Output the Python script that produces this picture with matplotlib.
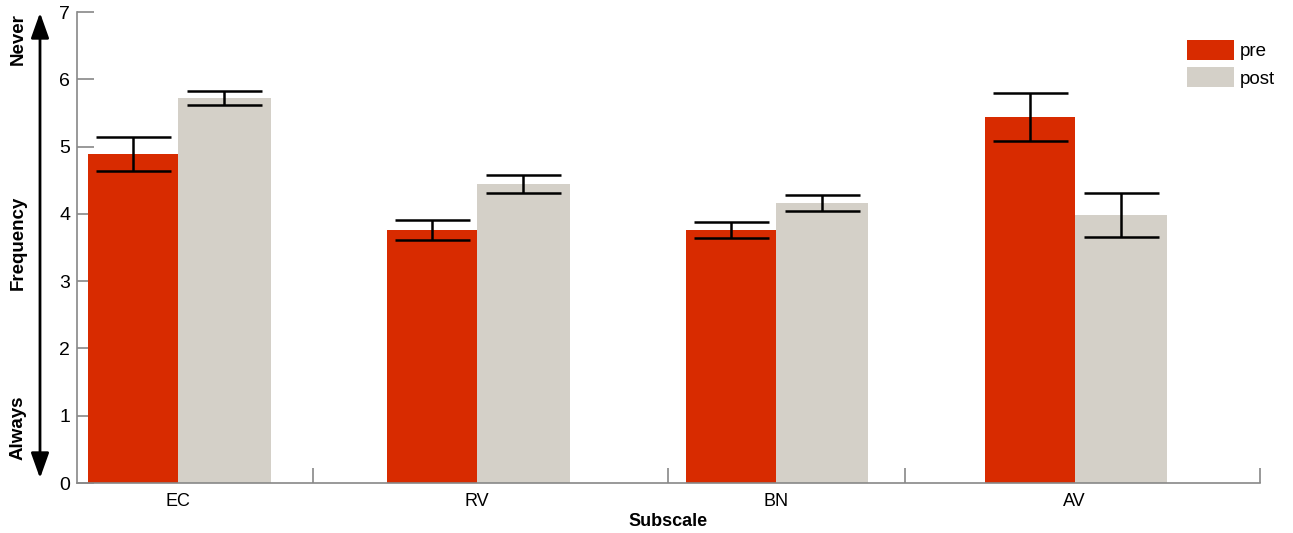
import matplotlib
matplotlib.use("Agg")
import matplotlib.pyplot as plt
import numpy as np

categories = ["EC", "RV", "BN", "AV"]
pre_vals = [4.89, 3.76, 3.76, 5.44]
pre_err = [0.25, 0.145, 0.12, 0.35]
post_vals = [5.72, 4.44, 4.16, 3.98]
post_err = [0.10, 0.135, 0.12, 0.33]
series_names = ["pre", "post"]
yticks = [0, 1, 2, 3, 4, 5, 6, 7]
x_minor_ticks = [0.452, 1.639, 2.431]

plt.rcParams['font.family'] = ['Liberation Sans', 'DejaVu Sans']

fig = plt.figure(figsize=(12.93, 5.33), dpi=100)
ax = fig.add_axes([77/1293, 1 - 483/533, (1260-77)/1293, (483-12)/533])

red = '#D82B00'
gray = '#D4D0C8'
x = np.arange(len(categories))
w = 0.31
ekw = dict(elinewidth=1.8, capthick=1.8, ecolor='black')
ax.bar(x - w/2 + 0.005, pre_vals, w - 0.01, color=red, label=series_names[0], yerr=pre_err,
       capsize=27, error_kw=ekw, zorder=2)
ax.bar(x + w/2, post_vals, w, color=gray, label=series_names[1], yerr=post_err,
       capsize=27, error_kw=ekw, zorder=2)

ax.set_xlim(-0.338, 3.62)
ax.set_ylim(0, 7)
ax.set_yticks(yticks)
ax.set_xticks(x)
ax.set_xticklabels(categories, fontsize=13)
ax.tick_params(axis='x', length=0, pad=7)
ax.set_xticks(x_minor_ticks + [3.62], minor=True)
ax.tick_params(axis='x', which='minor', direction='in', length=11, color='#888888', width=1.2)
ax.tick_params(axis='y', direction='in', length=12, color='#888888', width=1.2, labelsize=14, pad=5)
for s in ['top', 'right']:
    ax.spines[s].set_visible(False)
for s in ['left', 'bottom']:
    ax.spines[s].set_color('#888888')
    ax.spines[s].set_linewidth(1.2)

fig.text(668/1293, 1 - 521/533, "Subscale", ha='center', va='center', fontsize=13, fontweight='bold')

# arrow on the left
fig.add_artist(matplotlib.patches.FancyArrowPatch(
    (40/1293, 1 - 481/533), (40/1293, 1 - 10/533), transform=fig.transFigure,
    arrowstyle='<|-|>,head_length=1.4,head_width=0.5', mutation_scale=11,
    color='black', lw=2))
fig.text(18/1293, 1 - 39/533, "Never", rotation=90, ha='center', va='center', fontsize=13.5, fontweight='bold')
fig.text(18/1293, 1 - 243/533, "Frequency", rotation=90, ha='center', va='center', fontsize=13.5, fontweight='bold')
fig.text(18/1293, 1 - 428/533, "Always", rotation=90, ha='center', va='center', fontsize=13.5, fontweight='bold')

fig.legend(loc='upper left', bbox_to_anchor=(1187/1293, 1 - 40/533), frameon=False,
           borderpad=0, borderaxespad=0, handlelength=2.5, handleheight=1.25,
           handletextpad=0.3, labelspacing=0.38, fontsize=13.5)

fig.savefig("out.png", dpi=100)
